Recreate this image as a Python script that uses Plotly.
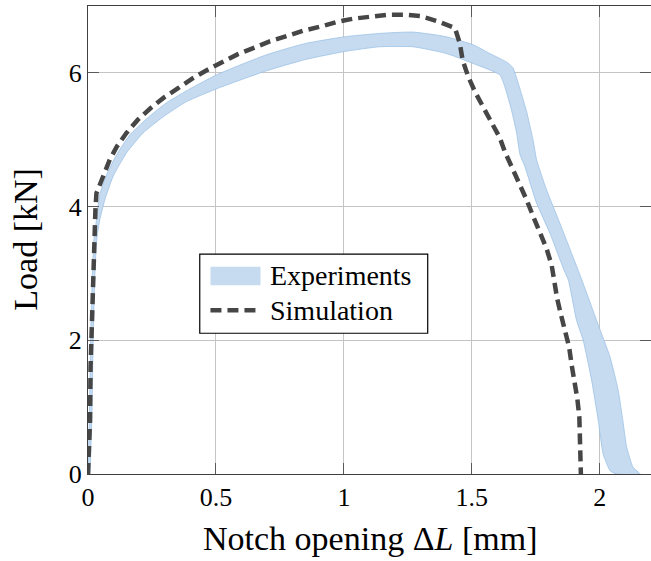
import plotly.graph_objects as go

# Experimental scatter band: outer (upper) and inner (lower) envelopes
exp_upper_x = [0.0, 0.006, 0.010, 0.017, 0.023, 0.033, 0.046, 0.072, 0.111, 0.163, 0.228, 0.306,
               0.398, 0.508, 0.697, 0.850, 1.003, 1.140, 1.270, 1.400, 1.505, 1.570, 1.636, 1.660,
               1.688, 1.714, 1.740, 1.753, 1.792, 1.844, 1.900, 1.935, 1.990, 2.040, 2.072, 2.090,
               2.105, 2.130, 2.157]
exp_upper_y = [0.0, 1.0, 2.0, 3.0, 3.5, 3.80, 4.18, 4.47, 4.77, 5.07, 5.31, 5.55,
               5.76, 5.98, 6.27, 6.44, 6.54, 6.59, 6.61, 6.54, 6.42, 6.29, 6.16, 6.08,
               5.76, 5.42, 4.98, 4.70, 4.25, 3.75, 3.20, 2.85, 2.27, 1.75, 1.25, 0.80,
               0.40, 0.10, 0.0]

exp_lower_x = [0.008, 0.016, 0.020, 0.027, 0.034, 0.046, 0.065, 0.098, 0.150, 0.215, 0.293, 0.385,
               0.508, 0.697, 0.850, 1.003, 1.140, 1.270, 1.400, 1.505, 1.609, 1.629, 1.655, 1.675,
               1.688, 1.707, 1.753, 1.805, 1.860, 1.877, 1.909, 1.935, 1.968, 1.994, 2.013, 2.040,
               2.065]
exp_lower_y = [0.0, 1.0, 2.0, 3.0, 3.5, 3.80, 4.09, 4.45, 4.80, 5.10, 5.34, 5.57,
               5.77, 6.03, 6.20, 6.32, 6.39, 6.39, 6.29, 6.14, 5.97, 5.79, 5.44, 5.10,
               4.78, 4.60, 4.05, 3.60, 3.05, 2.90, 2.30, 2.00, 1.40, 0.80, 0.30, 0.05,
               0.0]

# Simulated load-displacement curve
sim_x = [0.0, 0.004, 0.008, 0.010, 0.013, 0.016, 0.020, 0.022, 0.026, 0.029, 0.033, 0.045,
         0.059, 0.085, 0.113, 0.150, 0.195, 0.244, 0.300, 0.352, 0.410, 0.469, 0.528, 0.586,
         0.652, 0.710, 0.776, 0.840, 0.906, 0.971, 1.036, 1.100, 1.173, 1.238, 1.300, 1.368,
         1.434, 1.453, 1.464, 1.486, 1.512, 1.544, 1.577, 1.609, 1.629, 1.655, 1.688, 1.714,
         1.740, 1.766, 1.792, 1.812, 1.822, 1.833, 1.847, 1.864, 1.880, 1.890, 1.903, 1.912,
         1.920, 1.922, 1.925, 1.926]
sim_y = [0.0, 0.3, 0.8, 1.6, 2.0, 2.4, 2.9, 3.4, 3.7, 3.95, 4.20, 4.33,
         4.45, 4.70, 4.90, 5.10, 5.30, 5.47, 5.64, 5.77, 5.92, 6.05, 6.17, 6.28,
         6.38, 6.47, 6.55, 6.63, 6.69, 6.76, 6.81, 6.84, 6.87, 6.87, 6.85, 6.77,
         6.67, 6.44, 6.19, 5.94, 5.72, 5.49, 5.25, 5.03, 4.82, 4.60, 4.35, 4.10,
         3.85, 3.62, 3.37, 3.12, 2.87, 2.63, 2.40, 2.15, 1.90, 1.63, 1.38, 1.13,
         0.85, 0.60, 0.35, 0.0]

x_ticks = [0, 0.5, 1, 1.5, 2]
x_tick_labels = ["0", "0.5", "1", "1.5", "2"]
y_ticks = [0, 2, 4, 6]
y_tick_labels = ["0", "2", "4", "6"]

BAND_FILL = "#c6dbef"
BAND_EDGE = "rgba(150,190,228,0.9)"
SIM_COLOR = "#464646"
SIM_DASH = "11px,6px"
FONT = "Liberation Serif, Times New Roman, serif"
TICK_FONT = dict(family=FONT, size=26, color="black")

fig = go.Figure()

# Closed polygon: outer envelope forward, inner envelope backward
band_x = exp_upper_x + exp_lower_x[::-1]
band_y = exp_upper_y + exp_lower_y[::-1]
fig.add_trace(go.Scatter(
    x=band_x, y=band_y, mode="lines", fill="toself",
    fillcolor=BAND_FILL, line=dict(color=BAND_EDGE, width=0.8, shape="spline", smoothing=0.5),
    name="Experiments", showlegend=False, hoverinfo="skip",
))

fig.add_trace(go.Scatter(
    x=sim_x, y=sim_y, mode="lines",
    line=dict(color=SIM_COLOR, width=4.5, dash=SIM_DASH),
    name="Simulation", showlegend=False,
))

axis_common = dict(
    showgrid=True, gridcolor="#c4c4c4", gridwidth=1,
    showline=True, linecolor="#404040", linewidth=1.3, mirror="ticks",
    ticks="inside", ticklen=11, tickcolor="#5a5a5a", tickwidth=1,
    zeroline=False,
)

fig.update_layout(
    xaxis=dict(range=[0, 2.2], tickmode="array", tickvals=x_ticks, ticktext=x_tick_labels,
               tickfont=TICK_FONT, **axis_common),
    yaxis=dict(range=[0, 7], tickmode="array", tickvals=y_ticks, ticktext=y_tick_labels,
               tickfont=TICK_FONT, **axis_common),
)

# Hand-built legend box
shapes = [
    dict(type="rect", xref="paper", yref="paper", x0=0.1985, x1=0.6034, y0=0.3008, y1=0.4698,
         line=dict(color="black", width=1.2), fillcolor="white", layer="above"),
    dict(type="rect", xref="paper", yref="paper", x0=0.2175, x1=0.3064, y0=0.4035, y1=0.4426,
         line=dict(width=0), fillcolor=BAND_FILL, layer="above"),
    dict(type="line", xref="paper", yref="paper", x0=0.2175, x1=0.2990, y0=0.350, y1=0.350,
         line=dict(color=SIM_COLOR, width=4.5, dash=SIM_DASH), layer="above"),
]

annotations = [
    dict(text="Experiments", xref="paper", yref="paper", x=0.3194, y=0.424,
         xanchor="left", yanchor="middle", showarrow=False,
         font=dict(family=FONT, size=28, color="black")),
    dict(text="Simulation", xref="paper", yref="paper", x=0.3194, y=0.350,
         xanchor="left", yanchor="middle", showarrow=False,
         font=dict(family=FONT, size=28, color="black")),
    dict(text="Notch opening Δ<i>L</i> [mm]", xref="paper", yref="paper", x=0.5, y=-0.138,
         xanchor="center", yanchor="middle", showarrow=False,
         font=dict(family=FONT, size=34, color="black")),
    dict(text="Load [kN]", xref="paper", yref="paper", x=-0.1125, y=0.502,
         xanchor="center", yanchor="middle", textangle=-90, showarrow=False,
         font=dict(family=FONT, size=34, color="black")),
]

fig.update_layout(
    width=651, height=561,
    margin=dict(l=88, r=0, t=6, b=87),
    font=dict(family=FONT, size=26, color="black"),
    paper_bgcolor="white", plot_bgcolor="white",
    shapes=shapes, annotations=annotations,
    showlegend=False,
)

fig.write_html("out.html")
